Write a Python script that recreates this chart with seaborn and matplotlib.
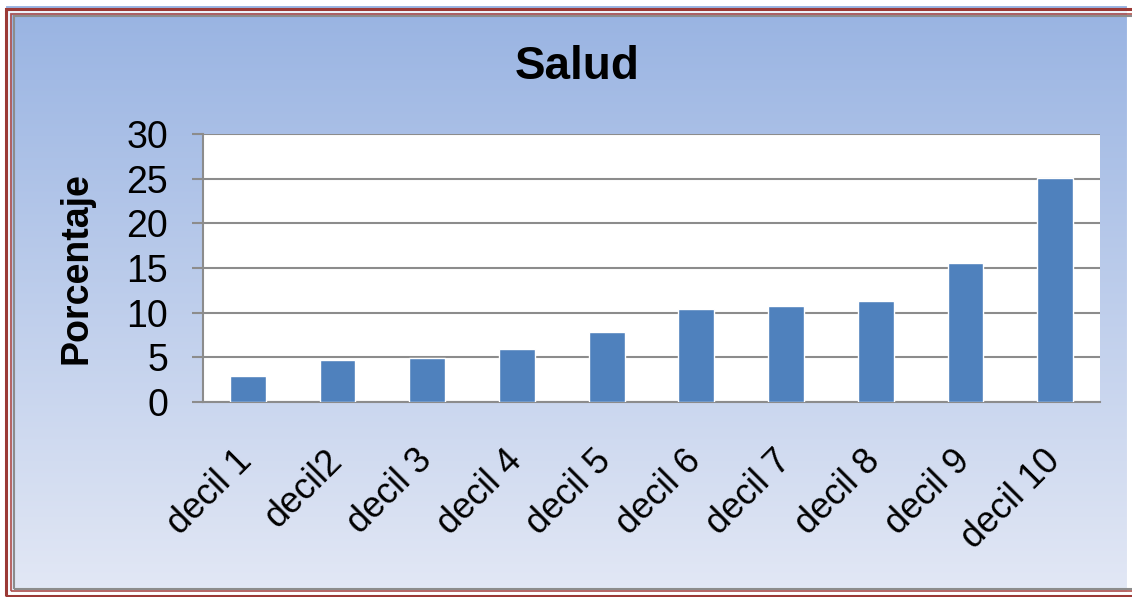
import numpy as np
import pandas as pd
import matplotlib.pyplot as plt
import matplotlib.transforms as mtransforms
import seaborn as sns
from matplotlib.patches import Rectangle

# data
deciles = ["decil 1", "decil2", "decil 3", "decil 4", "decil 5",
           "decil 6", "decil 7", "decil 8", "decil 9", "decil 10"]
porcentaje = [2.9, 4.7, 4.9, 5.9, 7.8, 10.4, 10.8, 11.3, 15.6, 25.1]
y_ticks = [0, 5, 10, 15, 20, 25, 30]

df = pd.DataFrame({"decil": deciles, "Porcentaje": porcentaje})

sns.set_style("white")
plt.rcParams["font.family"] = ["Liberation Sans", "DejaVu Sans"]
plt.rcParams["text.color"] = "black"
plt.rcParams["xtick.color"] = "black"
plt.rcParams["ytick.color"] = "black"
plt.rcParams["axes.labelcolor"] = "black"

fig = plt.figure(figsize=(11.32, 5.97), dpi=100)

# gradient background
bg = fig.add_axes([0, 0, 1, 1], zorder=-10)
top_col = np.array([0x98, 0xb3, 0xe2]) / 255
bot_col = np.array([0xe3, 0xe8, 0xf5]) / 255
t = np.linspace(0, 1, 256)[:, None]
grad = top_col[None, :] * (1 - t) + bot_col[None, :] * t
bg.imshow(grad[:, None, :], aspect="auto", extent=[0, 1, 0, 1])
bg.set_axis_off()

# framed border (right side runs off the picture, like the screenshot)
W, H = 1132, 597
def frame(x0, y0, x1, y1, color, lw):
    fig.patches.append(Rectangle((x0 / W, 1 - y1 / H), (x1 - x0) / W, (y1 - y0) / H,
                                 transform=fig.transFigure, fill=False,
                                 edgecolor=color, linewidth=lw, zorder=5))
fig.patches.append(Rectangle((0, 0), 1, 1, transform=fig.transFigure,
                             fill=False, edgecolor="white", linewidth=8, zorder=4))
frame(6, 9, 1145, 596, "#9b3a36", 2.2)
frame(9, 12, 1145, 593, "white", 1.2)
frame(11, 14, 1145, 591, "#b0504c", 1.2)
frame(14, 16, 1145, 589, "#8c8c8c", 1.5)

ax = fig.add_axes([0.1793, 0.3266, 0.7925, 0.4489])
ax.set_facecolor("white")
sns.barplot(data=df, x="decil", y="Porcentaje", color="#4f81bd",
            width=0.4, saturation=1, ax=ax, zorder=3)

ax.set_ylim(0, 30)
ax.set_yticks(y_ticks)
ax.set_xlim(-0.5, len(deciles) - 0.5)
ax.yaxis.grid(True, color="#8c8c8c", linewidth=1.5, zorder=0)
ax.set_axisbelow(True)
for side in ["top", "right"]:
    ax.spines[side].set_visible(False)
for side in ["left", "bottom"]:
    ax.spines[side].set_color("#8c8c8c")
    ax.spines[side].set_linewidth(1.5)

ax.tick_params(axis="y", which="both", left=True, length=8, width=1.5,
               color="#8c8c8c", labelsize=27, pad=17)
ax.tick_params(axis="x", bottom=False, labelsize=26, pad=26)
shift = mtransforms.ScaledTranslation(-13 / 100, 0, fig.dpi_scale_trans)
for lab in ax.get_xticklabels():
    lab.set_rotation(45)
    lab.set_ha("right")
    lab.set_rotation_mode("anchor")
    lab.set_transform(lab.get_transform() + shift)

ax.set_xlabel("")
ax.set_ylabel("Porcentaje", fontsize=27, fontweight="bold")
ax.yaxis.set_label_coords(-0.121, 0.5)
fig.text(0.51, 0.888, "Salud", ha="center", va="center",
         fontsize=33, fontweight="bold")

plt.savefig("out.png", dpi=100)
